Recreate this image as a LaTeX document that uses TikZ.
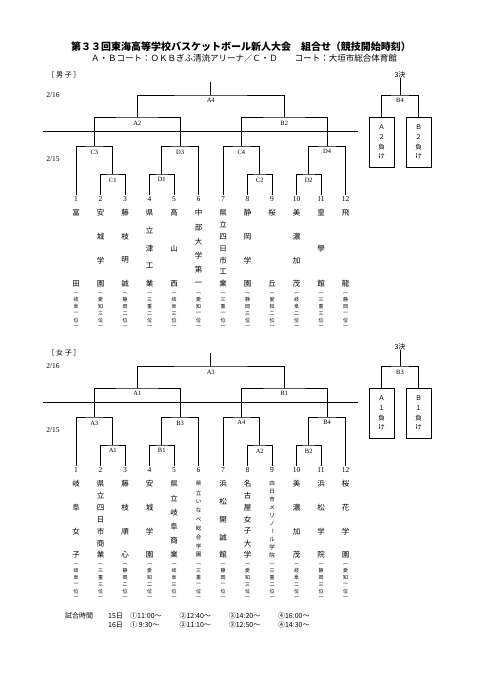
\documentclass[tikz,border=0pt]{standalone}
\usepackage{fontspec}
\setmainfont{Liberation Serif}
\newfontfamily\jp{Noto Sans CJK JP}
\usetikzlibrary{positioning}

\tikzset{
  bracket/.style={line width=1pt},
  rule/.style={line width=0.5pt},
  num/.style={font=\fontsize{7.5}{8}\selectfont, inner sep=1pt},
  mlabel/.style={font=\fontsize{6.5}{7}\selectfont, inner sep=0.5pt},
  namechar/.style={font=\jp\fontsize{7.5}{8}\selectfont, inner sep=0pt},
  smallchar/.style={font=\jp\fontsize{5.5}{6}\selectfont, inner sep=0pt},
  parchar/.style={font=\jp\fontsize{5}{5}\selectfont, inner sep=0pt},
  loserbox/.style={draw, line width=1pt, minimum width=25pt, minimum height=50pt,
    align=center, font=\jp\fontsize{6.5}{9.7}\selectfont},
  small/.style={font=\jp\fontsize{7}{8}\selectfont, inner sep=0pt},
}

% vertical text, characters spread from y top to y bottom
\newcommand\vtext[6]{%
  \gdef\vcnt{0}%
  \foreach \ch in {#6}{\xdef\vcnt{\the\numexpr\vcnt+1\relax}}%
  \foreach \ch [count=\k] in {#6}{%
    \pgfmathsetmacro\vy{(#3)+(\k-1)*((#4)-(#3))/max(\vcnt-1,1)}%
    \node[#5] (#1-\k) at (#2,\vy) {\ch};}%
}
% team: name + prefecture rank
\newcommand\team[5]{%
  \vtext{#1}{#2}{213}{284}{#3}{#4}%
  \vtext{#1p}{#2}{293}{327}{parchar}{︵,#5,︶}%
}

\begin{document}
\begin{tikzpicture}[x=1pt, y=-1pt]
\useasboundingbox (0,0) rectangle (481,680);

% title
\node[font=\jp\bfseries\fontsize{10}{12}\selectfont] (title) at (241,47)
  {第３３回東海高等学校バスケットボール新人大会　組合せ（競技開始時刻）};
\node[font=\jp\fontsize{8.5}{10}\selectfont] (subtitle) at (244,58)
  {Ａ・Ｂコート：ＯＫＢぎふ清流アリーナ／Ｃ・Ｄ　　コート：大垣市総合体育館};
\node[small] (mhead) at (64,75) {［ 男 子 ］};
\node[small] (whead) at (64,353) {［ 女 子 ］};

%%%% men
\node[num] (md16) at (53,95) {2/16};
\node[num] (md15) at (53,159) {2/15};
\foreach \i in {1,...,12}
  \node[num] (m\i) at ({76+(\i-1)*24.5},199) {\i};

\coordinate (mC1) at (112.75,174);
\coordinate (mD1) at (161.75,174);
\coordinate (mC2) at (259.75,174);
\coordinate (mD2) at (308.75,174);
\coordinate (mC3) at (94.4,146);
\coordinate (mD3) at (180.1,146);
\coordinate (mC4) at (241.4,146);
\coordinate (mD4) at (327.1,146);
\coordinate (mA2) at (137.25,117);
\coordinate (mB2) at (284.25,117);
\coordinate (mA4) at (210.75,95);
\coordinate (mtop) at (210.75,82);

\draw[bracket] (m2.north) |- (mC1) -| (m3.north);
\draw[bracket] (m4.north) |- (mD1) -| (m5.north);
\draw[bracket] (m8.north) |- (mC2) -| (m9.north);
\draw[bracket] (m10.north) |- (mD2) -| (m11.north);
\draw[bracket] (m1.north) |- (mC3) -| (mC1);
\draw[bracket] (mD1) |- (mD3) -| (m6.north);
\draw[bracket] (m7.north) |- (mC4) -| (mC2);
\draw[bracket] (mD2) |- (mD4) -| (m12.north);
\draw[bracket] (mC3) |- (mA2) -| (mD3);
\draw[bracket] (mC4) |- (mB2) -| (mD4);
\draw[bracket] (mA2) |- (mA4) -| (mB2);
\draw[bracket] (mA4) -- (mtop);

\node[mlabel, below=3pt of mC1] (lmC1) {C1};
\node[mlabel, below=3pt of mD1] (lmD1) {D1};
\node[mlabel, below=3pt of mC2] (lmC2) {C2};
\node[mlabel, below=3pt of mD2] (lmD2) {D2};
\node[mlabel, below=3pt of mC3] (lmC3) {C3};
\node[mlabel, below=3pt of mD3] (lmD3) {D3};
\node[mlabel, below=3pt of mC4] (lmC4) {C4};
\node[mlabel, below=3pt of mD4] (lmD4) {D4};
\node[mlabel, below=3pt of mA2] (lmA2) {A2};
\node[mlabel, below=3pt of mB2] (lmB2) {B2};
\node[mlabel, below=3pt of mA4] (lmA4) {A4};

\coordinate (mruleL) at (43,131);
\coordinate (mruleR) at (358,131);
\draw[rule] (mruleL) -- (mruleR);

% 3rd place
\node[small] (m3rd) at (400,75) {3決};
\coordinate (mB4) at (400,95);
\node[loserbox] (mlA) at (381.5,142) {Ａ\\２\\負\\け};
\node[loserbox] (mlB) at (418.5,142) {Ｂ\\２\\負\\け};
\draw[bracket] (mlA.north) |- (mB4) -| (mlB.north);
\draw[bracket] (mB4) -- (m3rd.south);
\node[mlabel, below=3pt of mB4] (lmB4) {B4};

\team{mt1}{76}{namechar}{富,田}{岐,阜,一,位}
\team{mt2}{100.5}{namechar}{安,城,学,園}{愛,知,三,位}
\team{mt3}{125}{namechar}{藤,枝,明,誠}{静,岡,二,位}
\team{mt4}{149.5}{namechar}{県,立,津,工,業}{三,重,二,位}
\team{mt5}{174}{namechar}{高,山,西}{岐,阜,三,位}
\team{mt6}{198.5}{namechar}{中,部,大,学,第,一}{愛,知,一,位}
\team{mt7}{223}{namechar}{県,立,四,日,市,工,業}{三,重,一,位}
\team{mt8}{247.5}{namechar}{静,岡,学,園}{静,岡,三,位}
\team{mt9}{272}{namechar}{桜,丘}{愛,知,二,位}
\team{mt10}{296.5}{namechar}{美,濃,加,茂}{岐,阜,二,位}
\team{mt11}{321}{namechar}{皇,學,館}{三,重,三,位}
\team{mt12}{345.5}{namechar}{飛,龍}{静,岡,一,位}

%%%% women
\begin{scope}[yshift=-271pt]
\node[num] (wd16) at (53,95) {2/16};
\node[num] (wd15) at (53,159) {2/15};
\foreach \i in {1,...,12}
  \node[num] (w\i) at ({76+(\i-1)*24.5},199) {\i};

\coordinate (wA1) at (112.75,174);
\coordinate (wB1) at (161.75,174);
\coordinate (wA2) at (259.75,174);
\coordinate (wB2) at (308.75,174);
\coordinate (wA3) at (94.4,146);
\coordinate (wB3) at (180.1,146);
\coordinate (wA4) at (241.4,146);
\coordinate (wB4) at (327.1,146);
\coordinate (wA1s) at (137.25,117);
\coordinate (wB1s) at (284.25,117);
\coordinate (wA3f) at (210.75,95);
\coordinate (wtop) at (210.75,82);

\draw[bracket] (w2.north) |- (wA1) -| (w3.north);
\draw[bracket] (w4.north) |- (wB1) -| (w5.north);
\draw[bracket] (w8.north) |- (wA2) -| (w9.north);
\draw[bracket] (w10.north) |- (wB2) -| (w11.north);
\draw[bracket] (w1.north) |- (wA3) -| (wA1);
\draw[bracket] (wB1) |- (wB3) -| (w6.north);
\draw[bracket] (w7.north) |- (wA4) -| (wA2);
\draw[bracket] (wB2) |- (wB4) -| (w12.north);
\draw[bracket] (wA3) |- (wA1s) -| (wB3);
\draw[bracket] (wA4) |- (wB1s) -| (wB4);
\draw[bracket] (wA1s) |- (wA3f) -| (wB1s);
\draw[bracket] (wA3f) -- (wtop);

\node[mlabel, below=3pt of wA1] (lwA1) {A1};
\node[mlabel, below=3pt of wB1] (lwB1) {B1};
\node[mlabel, below=3pt of wA2] (lwA2) {A2};
\node[mlabel, below=3pt of wB2] (lwB2) {B2};
\node[mlabel, below=3pt of wA3] (lwA3) {A3};
\node[mlabel, below=3pt of wB3] (lwB3) {B3};
\node[mlabel, below=3pt of wA4] (lwA4) {A4};
\node[mlabel, below=3pt of wB4] (lwB4) {B4};
\node[mlabel, below=3pt of wA1s] (lwA1s) {A1};
\node[mlabel, below=3pt of wB1s] (lwB1s) {B1};
\node[mlabel, below=3pt of wA3f] (lwA3f) {A3};

\coordinate (wruleL) at (43,131);
\coordinate (wruleR) at (358,131);
\draw[rule] (wruleL) -- (wruleR);

% 3rd place
\node[small] (w3rd) at (400,76) {3決};
\coordinate (wB3t) at (400,95);
\node[loserbox] (wlA) at (381.5,142) {Ａ\\１\\負\\け};
\node[loserbox] (wlB) at (418.5,142) {Ｂ\\１\\負\\け};
\draw[bracket] (wlA.north) |- (wB3t) -| (wlB.north);
\draw[bracket] (wB3t) -- (w3rd.south);
\node[mlabel, below=3pt of wB3t] (lwB3t) {B3};

\team{wt1}{76}{namechar}{岐,阜,女,子}{岐,阜,一,位}
\team{wt2}{100.5}{namechar}{県,立,四,日,市,商,業}{三,重,三,位}
\team{wt3}{125}{namechar}{藤,枝,順,心}{静,岡,二,位}
\team{wt4}{149.5}{namechar}{安,城,学,園}{愛,知,二,位}
\team{wt5}{174}{namechar}{県,立,岐,阜,商,業}{岐,阜,三,位}
\team{wt6}{198.5}{smallchar}{県,立,い,な,べ,総,合,学,園}{三,重,一,位}
\team{wt7}{223}{namechar}{浜,松,開,誠,館}{静,岡,一,位}
\team{wt8}{247.5}{namechar}{名,古,屋,女,子,大,学}{愛,知,三,位}
\team{wt9}{272}{smallchar}{四,日,市,メ,リ,ノ,\rotatebox{-90}{ー},ル,学,院}{三,重,二,位}
\team{wt10}{296.5}{namechar}{美,濃,加,茂}{岐,阜,二,位}
\team{wt11}{321}{namechar}{浜,松,学,院}{静,岡,三,位}
\team{wt12}{345.5}{namechar}{桜,花,学,園}{愛,知,一,位}
\end{scope}

% match times
\node[small, anchor=west] (tlabel) at (65,616) {試合時間};
\node[small, anchor=west] (tday1) at (108,616) {15日};
\node[small, anchor=west] (tday2) at (108,625) {16日};
\foreach \t [count=\k] in {①11:00～,②12:40～,③14:20～,④16:00～}
  \node[small, anchor=west] (ta\k) at ({130+(\k-1)*49.3},616) {\t};
\foreach \t [count=\k] in {① 9:30～,②11:10～,③12:50～,④14:30～}
  \node[small, anchor=west] (tb\k) at ({130+(\k-1)*49.3},625) {\t};
\end{tikzpicture}
\end{document}
